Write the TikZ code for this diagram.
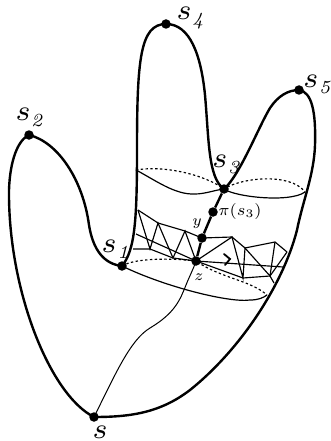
\documentclass[tikz,border=0pt]{standalone}
\usepackage{graphicx}
\newcommand{\bigs}[1]{\scalebox{4.1}{$\scriptstyle s$}\ifx&#1&\else\kern 0.5pt\raisebox{-6pt}{\scalebox{3.7}{\tiny\textit{#1}}}\fi}
\tikzset{
  x=1pt,y=-1pt,
  dot/.style={circle,fill=black,inner sep=0pt,minimum size=9.5pt},
  outline/.style={line width=2.4pt},
  thinline/.style={line width=1.2pt},
  mesh/.style={line width=1.15pt},
  dash line/.style={line width=1.15pt,dash pattern=on 2.4pt off 2.4pt},
  lab/.style={inner sep=0pt},
}
\begin{document}
\begin{tikzpicture}
\useasboundingbox (0,0) rectangle (330,441);
\fill[white] (0,0) rectangle (330,441);
% points
\node[dot] (s)  at (94,417) {};
\node[dot] (s1) at (122,266) {};
\node[dot] (s2) at (29,135) {};
\node[dot] (s3) at (224,189) {};
\node[dot] (s4) at (166,24) {};
\node[dot] (s5) at (299,90) {};
\node[dot] (pi) at (213,212) {};
\node[dot] (y)  at (202,238) {};
\node[dot] (z)  at (196,261) {};
% outline
\draw[outline] (s.center) .. controls (50,395) and (8,290) .. (9,190)
  .. controls (10,160) and (18,140) .. (s2.center)
  .. controls (58,142) and (83,180) .. (89,225)
  .. controls (93,250) and (104,264) .. (s1.center)
  .. controls (135,250) and (137,220) .. (137,150)
  .. controls (137,60) and (140,24) .. (s4.center)
  .. controls (190,24) and (201,55) .. (205,95)
  .. controls (209,140) and (208,178) .. (s3.center)
  .. controls (240,175) and (258,128) .. (270,108)
  .. controls (278,96) and (288,90) .. (s5.center)
  .. controls (312,92) and (316,112) .. (315,145)
  .. controls (314,175) and (303,200) .. (297,230)
  .. controls (283,285) and (240,350) .. (190,390)
  .. controls (160,413) and (130,417) .. (s.center);
\draw[outline] (s3) -- (pi) -- (y) -- (z);
% upper ring
\coordinate (tl) at (136,170);
\coordinate (tr) at (305,192);
\draw[thinline] (tl) .. controls (155,180) and (175,195) .. (195,194) .. controls (205,194) and (215,190) .. (s3.center)
  .. controls (235,197) and (290,203) .. (tr);
\draw[dash line] (tl) .. controls (165,165) and (205,175) .. (s3.center)
  .. controls (240,178) and (290,172) .. (tr);
% lower ring
\coordinate (br) at (267,295);
\draw[dash line] (s1.center) .. controls (135,258) and (170,258) .. (z.center) .. controls (220,278) and (250,280) .. (br);
\draw[thinline] (s1.center) .. controls (165,287) and (230,303) .. (250,300) .. controls (258,300) and (263,298) .. (br);
% geodesic
\draw[line width=1pt] (s.center) .. controls (115,375) and (130,340) .. (150,328)
  .. controls (175,313) and (180,300) .. (186,285) .. controls (190,275) and (193,270) .. (z.center);
% mesh
\coordinate (a0) at (138,210); \coordinate (a1) at (158,223); \coordinate (a2) at (185,231);
\coordinate (m0) at (136,234); \coordinate (m1) at (283,267);
\coordinate (l0) at (133,249); \coordinate (l1) at (150,249); \coordinate (l2) at (173,258);
\coordinate (l3) at (243,278); \coordinate (l4) at (270,276); \coordinate (l5) at (274,283);
\coordinate (u1) at (232,237); \coordinate (u2) at (245,248); \coordinate (u3) at (275,242); \coordinate (u4) at (287,252);
\draw[mesh] (a0) -- (a1) -- (a2) -- (y.center);
\draw[mesh] (m0) -- (z.center) -- (m1);
\draw[mesh] (l0) -- (l1) -- (l2) -- (z.center) -- (l3) -- (l4) -- (l5);
\draw[mesh] (y.center) -- (u1) -- (u2) -- (u3) -- (u4);
\draw[mesh] (a0) -- (l1) -- (a1) -- (l2) -- (a2) -- (z.center) -- (u1) -- (l3) -- (u2) -- (l4) -- (u3);
\draw[mesh] (l4) -- (u4);
\draw[line width=1.8pt,line cap=round] (224,254) -- (230,259) -- (225,265);
% labels
\node[lab] (ls)  at (100,432) {\bigs{}};
\node[lab] (ls1) at (115,249) {\bigs{1}};
\node[lab] (ls2) at (29,118) {\bigs{2}};
\node[lab] (ls3) at (226,165) {\bigs{3}};
\node[lab] (ls4) at (190,18) {\bigs{4}};
\node[lab] (ls5) at (317,85) {\bigs{5}};
\node[lab,scale=2.3] (lpi) at (240,211) {$\scriptstyle\pi(s_3)$};
\node[lab,scale=2.2] (ly) at (197,224) {$\scriptstyle y$};
\node[lab,scale=2.2] (lz) at (199,277) {$\scriptstyle z$};
\end{tikzpicture}
\end{document}
